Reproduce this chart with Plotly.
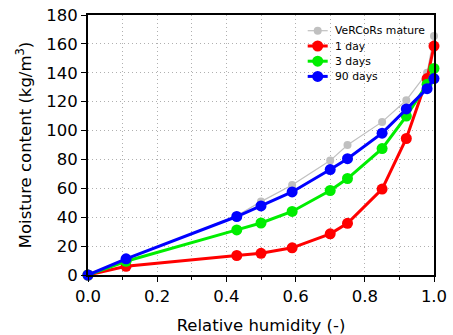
import plotly.graph_objects as go

rh = [0.0, 0.11, 0.43, 0.50, 0.59, 0.70, 0.75, 0.85, 0.92, 0.98, 1.0]
vercors = [0.0, 11.0, 41.0, 50.8, 62.3, 79.2, 90.0, 106.0, 121.0, 140.0, 165.5]
day1 = [0.0, 6.0, 13.5, 15.0, 18.8, 28.5, 35.8, 59.5, 94.5, 136.0, 158.5]
day3 = [0.0, 9.5, 31.2, 36.0, 44.0, 58.5, 66.8, 87.5, 110.0, 132.0, 143.0]
day90 = [0.0, 11.2, 40.5, 47.8, 57.5, 73.0, 80.5, 98.2, 115.0, 129.0, 136.0]

series = [
    ("VeRCoRs mature", vercors, "#c0c0c0", 1.2, 8),
    ("1 day", day1, "#ff0000", 3, 11),
    ("3 days", day3, "#00ee00", 3, 11),
    ("90 days", day90, "#0000ff", 3, 11),
]

W, H = 453, 335
ML, MR, MT, MB = 88, 19, 15, 60
PW, PH = W - ML - MR, H - MT - MB
FS = 16.5
GRID_DASH = "1px,3px"

fig = go.Figure()
for name, ys, col, lw, ms in series:
    fig.add_trace(go.Scatter(
        x=rh, y=ys, name=name, mode="lines+markers",
        line=dict(color=col, width=lw),
        marker=dict(color=col, size=ms),
        cliponaxis=False, showlegend=False,
    ))

# manual legend (compact, like matplotlib)
shapes = []
annotations = []
shapes.append(dict(type="rect", xref="paper", yref="paper",
                   x0=(303 - ML) / PW, x1=(425 - ML) / PW,
                   y0=(MT + PH - 84) / PH, y1=(MT + PH - 21) / PH,
                   fillcolor="white", line=dict(width=0), layer="between"))
row_px = [30.7, 46.0, 61.2, 76.4]
for (name, ys, col, lw, ms), rp in zip(series, row_px):
    yp = (MT + PH - rp) / PH
    x0 = (307.7 - ML) / PW
    x1 = (327.7 - ML) / PW
    xc = (317.7 - ML) / PW
    shapes.append(dict(type="line", xref="paper", yref="paper",
                       x0=x0, x1=x1, y0=yp, y1=yp,
                       line=dict(color=col, width=lw), layer="above"))
    rx = (ms / 2) / PW
    ry = (ms / 2) / PH
    shapes.append(dict(type="circle", xref="paper", yref="paper",
                       x0=xc - rx, x1=xc + rx, y0=yp - ry, y1=yp + ry,
                       fillcolor=col, line=dict(width=0), layer="above"))
    annotations.append(dict(text=name, xref="paper", yref="paper",
                            x=(333 - ML) / PW, y=yp, xanchor="left", yanchor="middle",
                            showarrow=False, font=dict(size=10.8, color="black")))

axis_common = dict(
    showline=True, linecolor="black", linewidth=2, mirror=True,
    ticks="outside", ticklen=5, tickcolor="black",
    showgrid=True, gridcolor="#b0b0b0", griddash=GRID_DASH, gridwidth=1,
    zeroline=False, automargin=False,
    tickfont=dict(size=FS, color="black"),
)

fig.update_xaxes(
    range=[0, 1], dtick=0.2, tick0=0, tickformat=".1f",
    title=dict(text="Relative humidity (-)", font=dict(size=FS, color="black"), standoff=15),
    minor=dict(dtick=0.1, ticks="outside", ticklen=3, tickcolor="black",
               showgrid=True, gridcolor="#b0b0b0", griddash=GRID_DASH),
    **axis_common,
)
fig.update_yaxes(
    range=[0, 180], dtick=20, tick0=0,
    title=dict(text="Moisture content (kg/m<sup>3</sup>)", font=dict(size=FS, color="black"), standoff=10),
    **axis_common,
)

fig.update_layout(
    width=W, height=H,
    margin=dict(l=ML, r=MR, t=MT, b=MB),
    plot_bgcolor="white", paper_bgcolor="white",
    font=dict(family="DejaVu Sans", color="black"),
    showlegend=False,
    shapes=shapes, annotations=annotations,
)

fig.write_html("out.html")
